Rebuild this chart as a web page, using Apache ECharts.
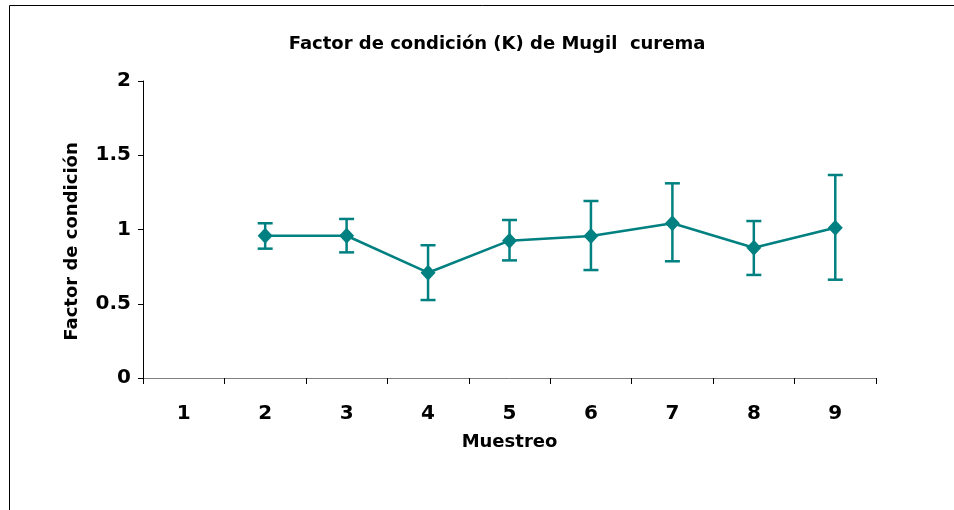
<!DOCTYPE html>
<html>
<head>
<meta charset="utf-8">
<script src="https://cdn.jsdelivr.net/npm/echarts@6/dist/echarts.min.js"></script>
<style>
    html, body { margin: 0; padding: 0; background: #fff; }
    #chart { width: 954px; height: 510px; }
</style>
</head>
<body>
<div id="chart"></div>
<script>
// datos
const muestreos = ['1', '2', '3', '4', '5', '6', '7', '8', '9']
const factorK = [null, 0.958, 0.958, 0.709, 0.925, 0.956, 1.042, 0.877, 1.012]
const errorBajo = [null, 0.871, 0.846, 0.525, 0.792, 0.727, 0.786, 0.694, 0.662]
const errorAlto = [null, 1.042, 1.071, 0.894, 1.064, 1.192, 1.311, 1.057, 1.367]

const teal = '#008080'
const fuente = 'DejaVu Sans'

const chart = echarts.init(document.getElementById('chart'))

const barras = muestreos
    .map((m, i) => [i, errorBajo[i], errorAlto[i]])
    .filter(d => d[1] !== null)

const option = {
    animation: false,
    backgroundColor: '#fff',
    title: {
        text: 'Factor de condición (K) de Mugil  curema',
        left: 492, top: 30, textAlign: 'center',
        textStyle: { fontFamily: fuente, fontSize: 18, fontWeight: 'bold', color: '#000' }
    },
    graphic: [{
        type: 'rect',
        shape: { x: 9.5, y: 5.5, width: 1000, height: 600 },
        style: { fill: null, stroke: '#000', lineWidth: 1 }
    }],
    grid: { left: 143, right: 78, top: 81, bottom: 132 },
    xAxis: {
        type: 'category',
        data: muestreos,
        name: 'Muestreo',
        nameLocation: 'middle',
        nameGap: 55,
        nameTextStyle: { fontFamily: fuente, fontSize: 18, fontWeight: 'bold', color: '#000' },
        axisLine: { lineStyle: { color: '#808080', width: 1 } },
        axisTick: { show: true, length: 6, lineStyle: { color: '#000' } },
        axisLabel: { margin: 26, fontFamily: fuente, fontSize: 20, fontWeight: 'bold', color: '#000' },
        splitLine: { show: false }
    },
    yAxis: {
        type: 'value',
        min: 0, max: 2, interval: 0.5,
        name: 'Factor de condición',
        nameLocation: 'middle',
        nameGap: 62,
        nameTextStyle: { fontFamily: fuente, fontSize: 18, fontWeight: 'bold', color: '#000', padding: [0, 24, 0, 0] },
        axisLine: { show: true, lineStyle: { color: '#000', width: 1 } },
        axisTick: { show: true, length: 5, lineStyle: { color: '#000' } },
        axisLabel: { margin: 12, fontFamily: fuente, fontSize: 20, fontWeight: 'bold', color: '#000' },
        splitLine: { show: false }
    },
    series: [{
        type: 'custom',
        data: barras,
        z: 2,
        renderItem: (params, api) => {
            const x = api.value(0)
            const bajo = api.coord([x, api.value(1)])
            const alto = api.coord([x, api.value(2)])
            const w = 7.5
            const estilo = { stroke: teal, lineWidth: 2.5 }
            return {
                type: 'group',
                children: [
                    { type: 'line', shape: { x1: bajo[0], y1: bajo[1], x2: alto[0], y2: alto[1] }, style: estilo },
                    { type: 'line', shape: { x1: alto[0] - w, y1: alto[1], x2: alto[0] + w, y2: alto[1] }, style: estilo },
                    { type: 'line', shape: { x1: bajo[0] - w, y1: bajo[1], x2: bajo[0] + w, y2: bajo[1] }, style: estilo }
                ]
            }
        }
    }, {
        type: 'line',
        data: factorK,
        z: 3,
        symbol: 'diamond',
        symbolSize: [15, 16],
        lineStyle: { color: teal, width: 2.5 },
        itemStyle: { color: teal }
    }]
}
chart.setOption(option)
</script>
</body>
</html>
